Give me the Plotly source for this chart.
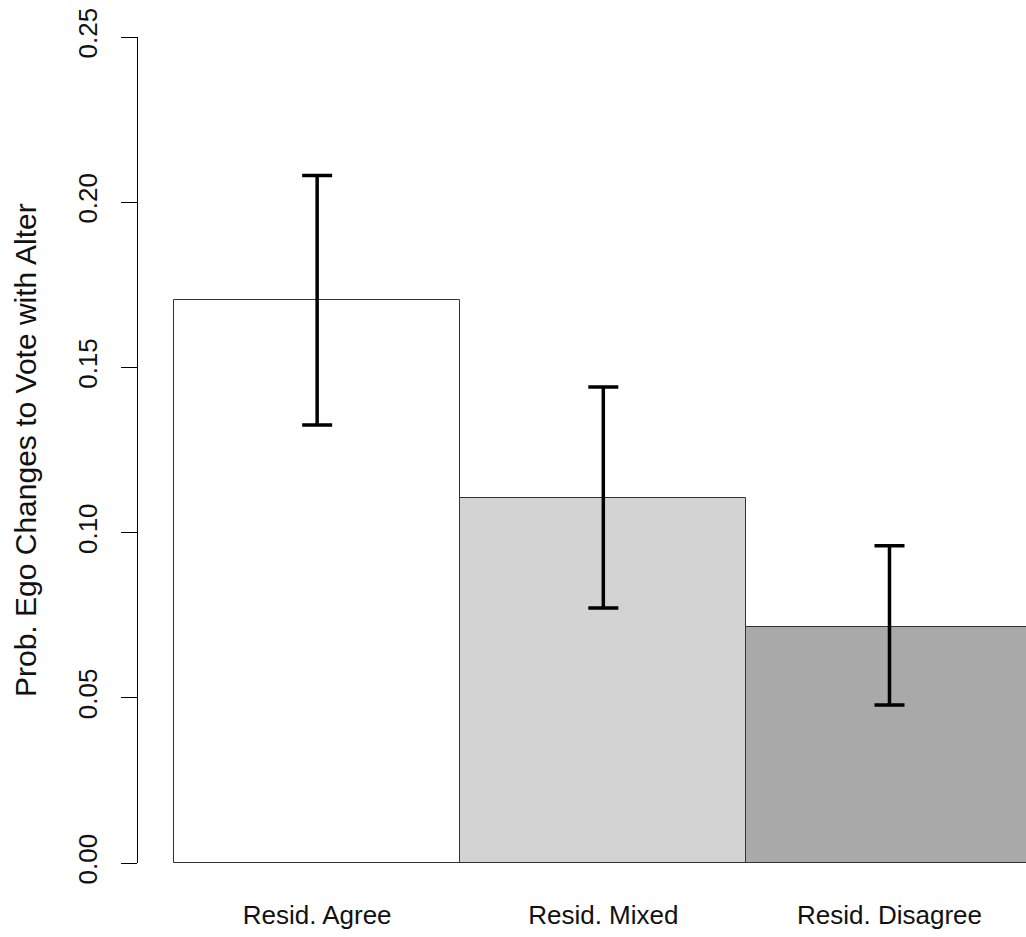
import plotly.graph_objects as go

categories = ["Resid. Agree", "Resid. Mixed", "Resid. Disagree"]
values = [0.1703, 0.1105, 0.0715]
ci_lower = [0.1326, 0.0772, 0.0478]
ci_upper = [0.2081, 0.1441, 0.0960]
bar_colors = ["#FFFFFF", "#D3D3D3", "#A9A9A9"]
y_ticks = [0.00, 0.05, 0.10, 0.15, 0.20, 0.25]
y_title = "Prob. Ego Changes to Vote with Alter"

FONT = "Arial, Liberation Sans, sans-serif"

err_plus = [u - v for u, v in zip(ci_upper, values)]
err_minus = [v - l for v, l in zip(values, ci_lower)]

L, T, B = 138, 37, 74
W, H = 1026, 937
plot_w = W - L

fig = go.Figure()
fig.add_trace(go.Bar(
    x=categories,
    y=values,
    width=1.0,
    marker=dict(color=bar_colors, line=dict(color="#333333", width=1)),
    error_y=dict(type="data", symmetric=False, array=err_plus, arrayminus=err_minus,
                 color="black", thickness=3.5, width=15),
    showlegend=False,
    hoverinfo="x+y",
))

# bottom outline of bars along the baseline
fig.add_shape(type="line", xref="x", yref="y", x0=-0.5, x1=2.5, y0=0, y1=0,
              line=dict(color="#333333", width=1.5), layer="above")

fig.add_annotation(text=y_title, xref="paper", yref="paper",
                   x=(25 - L) / plot_w, y=0.5, xanchor="center", yanchor="middle",
                   textangle=-90, showarrow=False,
                   font=dict(family=FONT, size=30, color="#111111"))

fig.update_layout(
    width=W, height=H,
    margin=dict(l=L, r=0, t=T, b=B, pad=0),
    paper_bgcolor="white", plot_bgcolor="white",
    bargap=0,
    font=dict(family=FONT, size=26, color="#111111"),
    xaxis=dict(type="category", range=[-0.626, 2.477], showline=False, showgrid=False,
               zeroline=False, ticks="", ticklabelstandoff=34,
               tickfont=dict(family=FONT, size=26, color="#111111")),
    yaxis=dict(range=[0, 0.25], tickvals=y_ticks, tickformat=".2f", tickangle=-90,
               showline=True, linecolor="black", linewidth=1,
               ticks="outside", ticklen=16, tickwidth=1, tickcolor="black",
               showgrid=False, zeroline=False, ticklabelstandoff=14,
               ticklabeloverflow="allow",
               tickfont=dict(family=FONT, size=26, color="#111111")),
)

fig.write_html(
    "out.html",
    config={"displayModeBar": False},
    post_script="document.body.style.margin='0';document.body.style.overflow='hidden';",
)
